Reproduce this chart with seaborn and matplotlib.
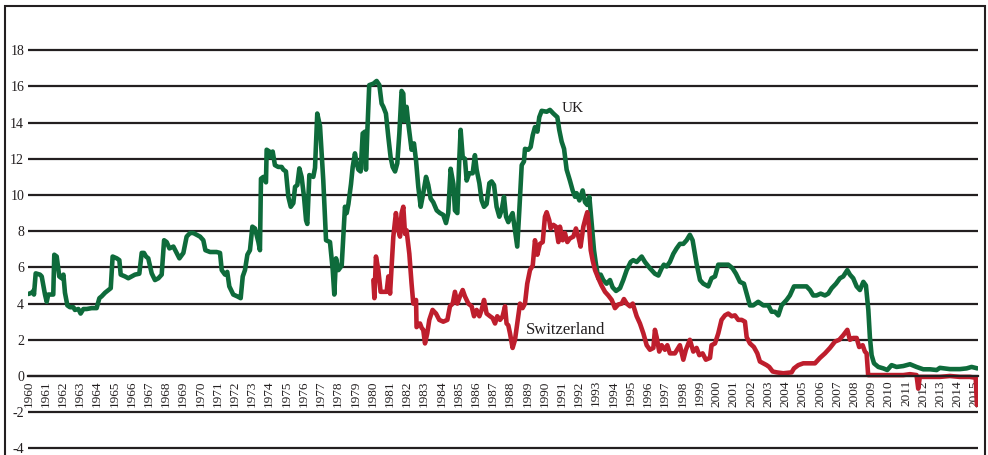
"""
UK vs Switzerland short-term interest rates, 1960-2015
"""
import pandas as pd
import matplotlib
matplotlib.use("Agg")
import matplotlib.pyplot as plt
import seaborn as sns
from matplotlib.patches import Rectangle

# values (decimal year, percent)
uk_year = [
    1960.00, 1960.20, 1960.29, 1960.33, 1960.43, 1960.68, 1960.78, 1960.97, 1961.07, 1961.16,
    1961.45, 1961.51, 1961.65, 1961.80, 1961.94, 1962.04, 1962.13, 1962.27, 1962.42, 1962.62,
    1962.71, 1962.91, 1963.04, 1963.20, 1963.39, 1963.68, 1963.97, 1964.13, 1964.26, 1964.46,
    1964.59, 1964.79, 1964.90, 1965.14, 1965.29, 1965.37, 1965.62, 1965.81, 1966.01, 1966.20,
    1966.45, 1966.59, 1966.72, 1966.84, 1966.97, 1967.17, 1967.36, 1967.56, 1967.75, 1967.89,
    1968.04, 1968.20, 1968.43, 1968.62, 1968.78, 1969.01, 1969.20, 1969.40, 1969.59, 1969.98,
    1970.17, 1970.29, 1970.56, 1970.94, 1971.14, 1971.24, 1971.43, 1971.56, 1971.68, 1971.91,
    1972.14, 1972.34, 1972.46, 1972.59, 1972.73, 1972.88, 1973.02, 1973.17, 1973.37, 1973.46,
    1973.52, 1973.66, 1973.81, 1973.85, 1974.01, 1974.08, 1974.20, 1974.33, 1974.52, 1974.72,
    1974.82, 1974.97, 1975.11, 1975.25, 1975.40, 1975.50, 1975.63, 1975.75, 1975.88, 1976.02,
    1976.14, 1976.21, 1976.33, 1976.56, 1976.66, 1976.79, 1976.95, 1977.14, 1977.30, 1977.53,
    1977.69, 1977.78, 1977.88, 1978.02, 1978.21, 1978.40, 1978.50, 1978.60, 1978.75, 1978.85,
    1978.98, 1979.08, 1979.18, 1979.31, 1979.43, 1979.56, 1979.62, 1979.70, 1979.81, 1980.05,
    1980.24, 1980.40, 1980.53, 1980.63, 1980.78, 1980.92, 1981.05, 1981.17, 1981.31, 1981.44,
    1981.56, 1981.69, 1981.79, 1981.85, 1981.98, 1982.08, 1982.18, 1982.27, 1982.41, 1982.53,
    1982.66, 1982.80, 1982.95, 1983.11, 1983.24, 1983.38, 1983.53, 1983.73, 1983.92, 1984.11,
    1984.27, 1984.40, 1984.54, 1984.70, 1984.79, 1984.93, 1985.04, 1985.12, 1985.24, 1985.37,
    1985.47, 1985.62, 1985.82, 1985.95, 1986.05, 1986.21, 1986.34, 1986.48, 1986.63, 1986.79,
    1986.92, 1987.06, 1987.21, 1987.37, 1987.50, 1987.64, 1987.76, 1987.89, 1988.03, 1988.14,
    1988.28, 1988.41, 1988.53, 1988.67, 1988.80, 1988.86, 1989.05, 1989.19, 1989.31, 1989.44,
    1989.58, 1989.69, 1989.83, 1990.12, 1990.31, 1990.51, 1990.74, 1990.85, 1990.99, 1991.13,
    1991.28, 1991.47, 1991.63, 1991.77, 1991.86, 1992.02, 1992.21, 1992.35, 1992.48, 1992.60,
    1992.73, 1992.87, 1992.98, 1993.12, 1993.26, 1993.41, 1993.60, 1993.80, 1993.95, 1994.15,
    1994.38, 1994.57, 1994.77, 1995.00, 1995.15, 1995.35, 1995.64, 1995.83, 1996.12, 1996.41,
    1996.61, 1996.80, 1996.93, 1997.09, 1997.28, 1997.48, 1997.67, 1997.86, 1998.06, 1998.25,
    1998.44, 1998.60, 1998.83, 1999.03, 1999.22, 1999.51, 1999.70, 1999.90, 2000.09, 2000.38,
    2000.67, 2000.92, 2001.12, 2001.35, 2001.58, 2001.74, 2001.93, 2002.12, 2002.41, 2002.71,
    2003.00, 2003.19, 2003.38, 2003.58, 2003.77, 2004.06, 2004.25, 2004.49, 2004.64, 2004.93,
    2005.22, 2005.42, 2005.61, 2005.80, 2006.04, 2006.29, 2006.48, 2006.68, 2006.93, 2007.16,
    2007.35, 2007.59, 2007.74, 2007.93, 2008.13, 2008.32, 2008.52, 2008.67, 2008.81, 2008.90,
    2009.00, 2009.14, 2009.39, 2009.68, 2009.91, 2010.16, 2010.45, 2010.84, 2011.23, 2011.61,
    2012.00, 2012.39, 2012.78, 2012.97, 2013.55, 2014.13, 2014.52, 2014.81, 2015.15,
]
uk_rate = [
    4.53, 4.60, 4.70, 4.50, 5.67, 5.60, 5.50, 4.50, 4.10, 4.50,
    4.50, 6.70, 6.60, 5.50, 5.40, 5.60, 4.60, 3.90, 3.80, 3.80,
    3.65, 3.70, 3.45, 3.70, 3.70, 3.75, 3.75, 4.30, 4.40, 4.60,
    4.70, 4.85, 6.60, 6.50, 6.40, 5.60, 5.50, 5.40, 5.50, 5.60,
    5.65, 6.80, 6.80, 6.60, 6.50, 5.67, 5.30, 5.40, 5.60, 7.50,
    7.40, 7.05, 7.15, 6.80, 6.50, 6.80, 7.70, 7.90, 7.90, 7.70,
    7.50, 6.95, 6.85, 6.85, 6.80, 5.85, 5.60, 5.75, 4.95, 4.50,
    4.40, 4.30, 5.50, 5.85, 6.70, 6.95, 8.25, 8.15, 7.40, 6.95,
    10.90, 11.00, 10.70, 12.50, 12.40, 12.10, 12.40, 11.65, 11.55, 11.55,
    11.40, 11.30, 9.90, 9.35, 9.55, 10.45, 10.55, 11.47, 11.00, 9.90,
    8.60, 8.40, 11.10, 11.00, 11.50, 14.50, 13.80, 10.80, 7.50, 7.40,
    5.85, 4.50, 6.50, 5.85, 6.10, 9.35, 9.00, 9.50, 10.60, 11.55,
    12.30, 11.75, 11.40, 11.30, 13.40, 13.50, 11.40, 13.50, 16.07, 16.15,
    16.30, 16.07, 15.05, 14.87, 14.50, 13.20, 12.10, 11.55, 11.30, 11.75,
    13.40, 15.75, 15.60, 14.10, 14.87, 13.95, 13.20, 12.50, 12.85, 11.90,
    10.45, 9.35, 10.10, 11.00, 10.55, 9.80, 9.60, 9.15, 9.00, 8.90,
    8.45, 9.00, 11.45, 10.60, 9.15, 9.00, 11.90, 13.60, 12.10, 12.00,
    10.80, 11.20, 11.20, 12.20, 11.40, 10.65, 9.70, 9.35, 9.50, 10.65,
    10.75, 10.55, 9.35, 8.80, 9.15, 9.90, 8.80, 8.50, 8.80, 9.00,
    8.05, 7.15, 9.15, 11.65, 11.85, 12.55, 12.50, 12.65, 13.30, 13.75,
    13.50, 14.30, 14.65, 14.60, 14.70, 14.50, 14.30, 13.60, 12.95, 12.55,
    11.40, 10.80, 10.25, 9.90, 10.10, 9.70, 10.25, 9.60, 9.45, 9.90,
    8.45, 6.95, 6.20, 5.40, 5.60, 5.30, 5.10, 5.30, 4.90, 4.70,
    4.85, 5.30, 5.85, 6.30, 6.40, 6.30, 6.60, 6.30, 5.95, 5.65,
    5.55, 5.95, 6.15, 6.05, 6.30, 6.75, 7.05, 7.30, 7.30, 7.50,
    7.80, 7.50, 6.20, 5.30, 5.10, 4.95, 5.40, 5.50, 6.15, 6.15,
    6.15, 5.95, 5.65, 5.20, 5.10, 4.55, 3.90, 3.90, 4.10, 3.90,
    3.90, 3.55, 3.55, 3.35, 3.90, 4.20, 4.45, 4.95, 4.95, 4.95,
    4.95, 4.75, 4.45, 4.45, 4.55, 4.45, 4.55, 4.85, 5.10, 5.40,
    5.50, 5.85, 5.60, 5.40, 4.95, 4.75, 5.20, 5.00, 3.65, 2.15,
    1.15, 0.70, 0.50, 0.42, 0.33, 0.60, 0.50, 0.55, 0.65, 0.50,
    0.37, 0.37, 0.33, 0.45, 0.38, 0.38, 0.42, 0.50, 0.42,
]

ch_year = [
    1980.05, 1980.11, 1980.20, 1980.34, 1980.47, 1980.63, 1980.82, 1980.92, 1981.02, 1981.11,
    1981.21, 1981.36, 1981.50, 1981.60, 1981.69, 1981.79, 1981.89, 1981.98, 1982.14, 1982.27,
    1982.37, 1982.53, 1982.56, 1982.76, 1982.86, 1982.95, 1983.05, 1983.18, 1983.30, 1983.49,
    1983.69, 1983.88, 1984.11, 1984.35, 1984.50, 1984.66, 1984.79, 1984.93, 1985.08, 1985.24,
    1985.37, 1985.57, 1985.76, 1985.90, 1986.05, 1986.21, 1986.34, 1986.48, 1986.63, 1986.83,
    1986.98, 1987.12, 1987.25, 1987.41, 1987.56, 1987.70, 1987.79, 1987.89, 1987.99, 1988.14,
    1988.28, 1988.41, 1988.57, 1988.72, 1988.86, 1988.99, 1989.15, 1989.31, 1989.44, 1989.58,
    1989.73, 1989.89, 1990.02, 1990.12, 1990.27, 1990.35, 1990.51, 1990.66, 1990.80, 1990.89,
    1991.05, 1991.18, 1991.32, 1991.47, 1991.67, 1991.82, 1991.96, 1992.09, 1992.25, 1992.40,
    1992.48, 1992.60, 1992.68, 1992.79, 1992.93, 1993.12, 1993.31, 1993.51, 1993.70, 1993.90,
    1994.09, 1994.28, 1994.48, 1994.61, 1994.77, 1994.96, 1995.12, 1995.35, 1995.54, 1995.74,
    1995.93, 1996.12, 1996.32, 1996.41, 1996.51, 1996.66, 1996.80, 1996.99, 1997.13, 1997.28,
    1997.57, 1997.86, 1998.06, 1998.21, 1998.44, 1998.64, 1998.83, 1998.99, 1999.18, 1999.37,
    1999.61, 1999.70, 1999.90, 2000.09, 2000.28, 2000.48, 2000.67, 2000.87, 2001.06, 2001.25,
    2001.45, 2001.64, 2001.74, 2001.93, 2002.16, 2002.36, 2002.51, 2002.71, 2002.90, 2003.05,
    2003.25, 2003.48, 2003.87, 2004.35, 2004.49, 2004.74, 2005.03, 2005.42, 2005.71, 2006.00,
    2006.29, 2006.58, 2006.87, 2007.12, 2007.35, 2007.59, 2007.74, 2007.93, 2008.13, 2008.28,
    2008.48, 2008.61, 2008.71, 2008.80, 2009.68, 2010.84, 2011.23, 2011.61, 2011.71, 2011.80,
    2012.20, 2012.97, 2013.55, 2014.13, 2014.71, 2015.05, 2015.12,
]
ch_rate = [
    5.30, 4.30, 6.60, 5.85, 4.65, 4.65, 4.65, 5.50, 4.55, 6.05,
    7.70, 9.00, 8.05, 7.70, 9.00, 9.35, 7.85, 8.05, 6.75, 5.10,
    4.00, 4.20, 2.70, 2.90, 2.65, 2.55, 1.80, 2.35, 3.10, 3.65,
    3.45, 3.10, 3.00, 3.10, 3.85, 4.00, 4.65, 4.00, 4.40, 4.75,
    4.40, 4.00, 3.85, 3.30, 3.65, 3.30, 3.65, 4.20, 3.45, 3.30,
    3.20, 2.90, 3.30, 3.10, 3.30, 3.85, 2.90, 2.80, 2.35, 1.55,
    2.00, 2.90, 4.00, 3.75, 4.00, 5.10, 5.85, 6.10, 7.50, 6.70,
    7.30, 7.40, 8.80, 9.05, 8.60, 8.15, 8.35, 8.25, 7.40, 8.25,
    7.50, 7.90, 7.40, 7.60, 7.70, 8.15, 7.70, 7.15, 8.25, 8.80,
    9.05, 8.05, 6.95, 6.40, 5.85, 5.40, 5.00, 4.65, 4.45, 4.20,
    3.75, 3.95, 4.00, 4.25, 4.00, 3.85, 4.00, 3.30, 2.90, 2.35,
    1.70, 1.45, 1.55, 2.55, 2.15, 1.35, 1.70, 1.45, 1.70, 1.25,
    1.25, 1.70, 0.90, 1.45, 2.00, 1.35, 1.55, 1.15, 1.25, 0.90,
    1.00, 1.70, 1.80, 2.35, 3.10, 3.35, 3.45, 3.30, 3.35, 3.10,
    3.10, 3.00, 2.15, 1.80, 1.60, 1.25, 0.80, 0.70, 0.60, 0.50,
    0.25, 0.20, 0.15, 0.20, 0.42, 0.60, 0.70, 0.70, 0.70, 1.00,
    1.25, 1.55, 1.90, 2.00, 2.25, 2.55, 2.00, 2.10, 2.10, 1.60,
    1.70, 1.35, 1.25, 0.05, 0.05, 0.05, 0.10, 0.05, -0.70, -0.05,
    -0.05, -0.05, 0.00, -0.05, -0.05, -0.10, -1.60,
]

year_ticks = list(range(1960, 2016))
rate_ticks = list(range(-4, 19, 2))

UK_GREEN = "#0e6b3b"
CH_RED = "#be1e2d"
INK = "#231f20"

sns.set_style("white")
plt.rcParams["font.family"] = ["Liberation Serif", "DejaVu Serif"]
plt.rcParams["axes.unicode_minus"] = False

df = pd.concat([
    pd.DataFrame({"year": uk_year, "rate": uk_rate, "country": "UK"}),
    pd.DataFrame({"year": ch_year, "rate": ch_rate, "country": "Switzerland"}),
], ignore_index=True)

fig = plt.figure(figsize=(9.88, 4.55), dpi=100)
ax = fig.add_axes([0.02864, 0.01055, 0.9612, 0.9587])

sns.lineplot(
    data=df, x="year", y="rate", hue="country",
    palette={"UK": UK_GREEN, "Switzerland": CH_RED},
    estimator=None, sort=False, linewidth=3.3, legend=False, ax=ax,
)

ax.set_xlim(1960, 2015.18)
ax.set_ylim(-4.1, 20)
ax.set_xlabel("")
ax.set_ylabel("")

# horizontal gridlines only, axis line sitting on zero
ax.set_axisbelow(True)
ax.yaxis.grid(True, color=INK, linewidth=1.6)
ax.xaxis.grid(False)
for side in ["left", "right", "top"]:
    ax.spines[side].set_visible(False)
ax.spines["bottom"].set_position(("data", 0))
ax.spines["bottom"].set_color(INK)
ax.spines["bottom"].set_linewidth(1.6)

ax.set_xticks(year_ticks)
ax.set_xticklabels([str(y) for y in year_ticks], rotation=90)
ax.set_yticks(rate_ticks)
ax.set_yticklabels([str(v) for v in rate_ticks])
ax.tick_params(axis="x", direction="in", length=4, width=1.2, color=INK,
               pad=3, labelsize=9.5, labelcolor=INK)
ax.tick_params(axis="y", length=0, pad=3, labelsize=10, labelcolor=INK)

ax.text(1991.0, 14.8, "UK", fontsize=11, color=INK, va="center")
ax.text(1988.92, 2.54, "Switzerland", fontsize=12, color=INK, va="center")

# frame around the whole figure (open at the bottom edge)
fig.add_artist(Rectangle((5 / 988, -0.1), 980 / 988, 1.1 - 6 / 455,
                         transform=fig.transFigure, fill=False,
                         edgecolor=INK, linewidth=1.5, clip_on=False))

fig.savefig("out.png", dpi=100)
plt.close(fig)
